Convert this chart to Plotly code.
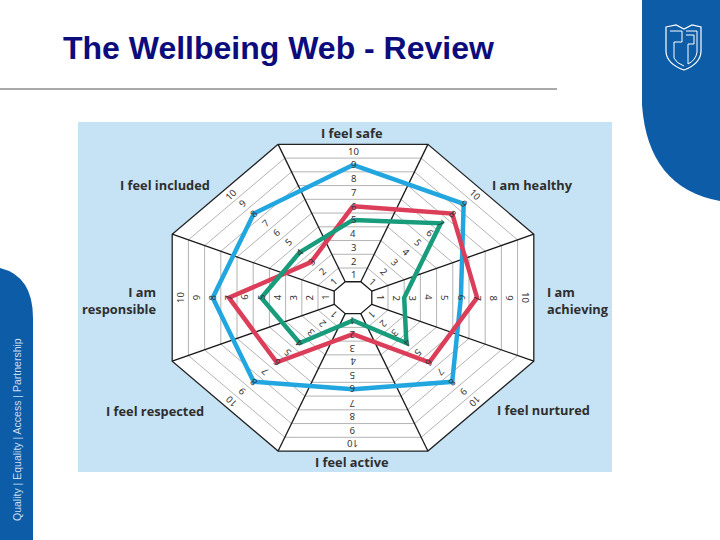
import numpy as np
import plotly.graph_objects as go

# ---------------- data ----------------
categories = ["I feel safe", "I am healthy", "I am achieving", "I feel nurtured",
              "I feel active", "I feel respected", "I am responsible", "I feel included"]
category_labels = ["I feel safe", "I am healthy", "I am<br>achieving", "I feel nurtured",
                   "I feel active", "I feel respected", "I am<br>responsible", "I feel included"]
blue_values = [9, 9, 6, 8, 6, 8, 8, 8]
red_values = [6, 8, 7, 6, 2, 6, 7, 3]
green_values = [5, 7, 2.5, 4, 1, 4, 5, 4]
tick_values = [1, 2, 3, 4, 5, 6, 7, 8, 9, 10]
tick_labels = ["1", "2", "3", "4", "5", "6", "7", "8", "9", "10"]

title_text = "The Wellbeing Web - Review"
side_text = "Quality | Equality | Access | Partnership"

# ---------------- geometry helpers ----------------
W, H = 720, 540
CX, CY = 353.0, 297.7          # centre of web in pixels
UX, UY = 16.2, 13.74           # pixels per unit (image is stretched)
OFFSET = 0.66                  # value 0 sits this far from the centre
N = len(categories)
HALF = np.pi / N               # half wedge angle


def axis_angle(i):
    return np.pi / 2 - 2 * np.pi * i / N


def to_xy(v, i):
    d = v + OFFSET
    a = axis_angle(i)
    return d * np.cos(a), d * np.sin(a)


def ring(level):
    """octagon ring whose edge midpoints are at `level`"""
    d = (level + OFFSET) / np.cos(HALF)
    xs, ys = [], []
    for j in range(N + 1):
        a = axis_angle(j) + HALF
        xs.append(d * np.cos(a))
        ys.append(d * np.sin(a))
    return xs, ys


def px(x):
    return x / W


def py(y):
    return 1 - y / H


fig = go.Figure()

# outer white octagon
ox, oy = ring(10.5)
fig.add_trace(go.Scatter(x=ox, y=oy, mode="lines", fill="toself", fillcolor="white",
                         line=dict(color="#222222", width=1.3), hoverinfo="skip"))

# inner ring lines
gx, gy = [], []
for k in range(1, 10):
    rx, ry = ring(k + 0.5)
    gx += rx + [None]
    gy += ry + [None]
fig.add_trace(go.Scatter(x=gx, y=gy, mode="lines",
                         line=dict(color="#a0a0a0", width=0.8), hoverinfo="skip"))

# spokes
sx, sy = [], []
d_in = (0.5 + OFFSET) / np.cos(HALF)
d_out = (10.5 + OFFSET) / np.cos(HALF)
for j in range(N):
    a = axis_angle(j) + HALF
    sx += [d_in * np.cos(a), d_out * np.cos(a), None]
    sy += [d_in * np.sin(a), d_out * np.sin(a), None]
fig.add_trace(go.Scatter(x=sx, y=sy, mode="lines",
                         line=dict(color="#1a1a1a", width=1.3), hoverinfo="skip"))

# hub
hx, hy = ring(0.5)
fig.add_trace(go.Scatter(x=hx, y=hy, mode="lines", fill="toself", fillcolor="white",
                         line=dict(color="#1a1a1a", width=1.3), hoverinfo="skip"))

# data series
series = [("blue", blue_values, "#22a6e0"),
          ("red", red_values, "#dc3e5a"),
          ("green", green_values, "#189c7c")]
for name, vals, col in series:
    pts = [to_xy(v, i) for i, v in enumerate(vals)]
    pts.append(pts[0])
    fig.add_trace(go.Scatter(x=[p[0] for p in pts], y=[p[1] for p in pts], mode="lines",
                             name=name, line=dict(color=col, width=4.5), hoverinfo="skip"))

annotations = []
# numbers in each wedge
for i in range(N):
    ang = ((360 / N) * i + 180) % 360 - 180
    for v, lab in zip(tick_values, tick_labels):
        x, y = to_xy(v, i)
        annotations.append(dict(x=x, y=y, xref="x", yref="y", text=lab, showarrow=False,
                                textangle=ang, font=dict(family="Noto Sans", size=9.5, color="#333333")))

# category labels (pixel positions on the slide)
label_pos = [(352, 133, "center"), (532, 185, "center"), (545, 300, "left"), (543, 410, "center"),
             (352, 462, "center"), (155, 411, "center"), (158, 300, "right"), (165, 185, "center")]
for lab, (lx, ly, al) in zip(category_labels, label_pos):
    annotations.append(dict(x=px(lx), y=py(ly), xref="paper", yref="paper", text=lab,
                            showarrow=False, xanchor=al, yanchor="middle", align=al,
                            font=dict(family="Open Sans", size=12.8, color="#2e2e2e", weight="bold")))

# title
annotations.append(dict(x=px(61), y=py(48), xref="paper", yref="paper", text=title_text,
                        showarrow=False, xanchor="left", yanchor="middle",
                        font=dict(family="Liberation Sans", size=32, color="#0c0c7c", weight="bold")))
# side text
annotations.append(dict(x=px(17), y=py(430), xref="paper", yref="paper", text=side_text,
                        showarrow=False, textangle=-90, xanchor="center", yanchor="middle",
                        font=dict(family="Liberation Sans", size=10.5, color="#c9dcef")))

# ---------------- slide decoration shapes ----------------
shapes = [
    # light blue panel behind the web
    dict(type="rect", xref="paper", yref="paper", x0=px(78), x1=px(612), y0=py(472), y1=py(122),
         fillcolor="#c6e3f5", line=dict(width=0), layer="below"),
    # rule under title
    dict(type="line", xref="paper", yref="paper", x0=px(0), x1=px(557), y0=py(89), y1=py(89),
         line=dict(color="#555555", width=1), layer="below"),
    # right top blue panel
    dict(type="path", xref="paper", yref="paper", layer="below",
         path=(f"M {px(642)},{py(0)} L {px(720)},{py(0)} L {px(720)},{py(201)} "
               f"Q {px(648)},{py(188)} {px(642)},{py(105)} Z"),
         fillcolor="#0d5ca8", line=dict(width=0)),
    # left bottom blue panel
    dict(type="path", xref="paper", yref="paper", layer="below",
         path=(f"M {px(0)},{py(268)} Q {px(33)},{py(276)} {px(33)},{py(318)} "
               f"L {px(33)},{py(540)} L {px(0)},{py(540)} Z"),
         fillcolor="#0d5ca8", line=dict(width=0)),
    # shield logo (outline)
    dict(type="path", xref="paper", yref="paper", layer="above",
         path=(f"M {px(666)},{py(27)} L {px(676)},{py(25)} L {px(684)},{py(29)} L {px(692)},{py(25)} "
               f"L {px(701)},{py(27)} L {px(701)},{py(52)} Q {px(700)},{py(64)} {px(684)},{py(70)} "
               f"Q {px(667)},{py(64)} {px(666)},{py(52)} Z"),
         line=dict(color="white", width=1.2)),
    dict(type="path", xref="paper", yref="paper", layer="above",
         path=(f"M {px(670)},{py(31)} L {px(682)},{py(31)} L {px(682)},{py(42)} L {px(674)},{py(42)} "
               f"L {px(674)},{py(58)} Q {px(676)},{py(63)} {px(684)},{py(66)}"),
         line=dict(color="white", width=1)),
    dict(type="path", xref="paper", yref="paper", layer="above",
         path=(f"M {px(686)},{py(31)} L {px(697)},{py(31)} L {px(697)},{py(52)} "
               f"Q {px(696)},{py(60)} {px(688)},{py(64)} L {px(688)},{py(44)} L {px(694)},{py(44)} L {px(694)},{py(35)} L {px(686)},{py(35)}"),
         line=dict(color="white", width=1)),
]

fig.update_layout(
    width=W, height=H,
    margin=dict(l=0, r=0, t=0, b=0),
    paper_bgcolor="white", plot_bgcolor="white",
    showlegend=False,
    xaxis=dict(range=[-CX / UX, (W - CX) / UX], visible=False, fixedrange=True),
    yaxis=dict(range=[-(H - CY) / UY, CY / UY], visible=False, fixedrange=True),
    annotations=annotations,
    shapes=shapes,
)

fig.write_html("out.html", config={"displayModeBar": False},
               post_script="document.body.style.margin='0';document.body.style.overflow='hidden';")
